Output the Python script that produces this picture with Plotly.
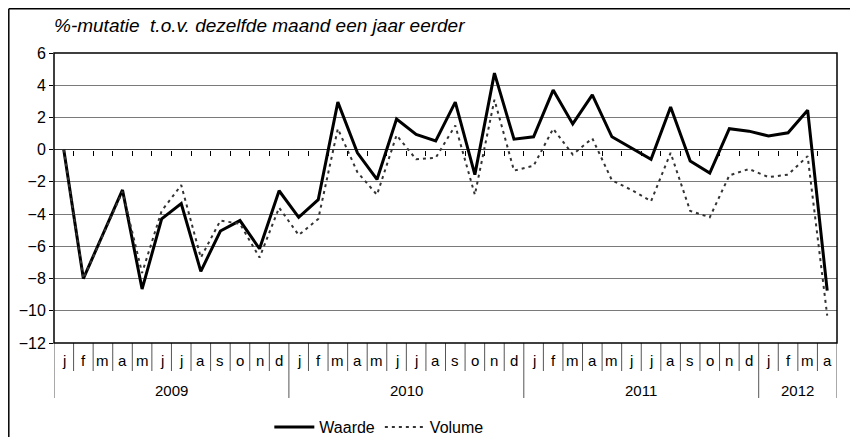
import plotly.graph_objects as go

months = ["j", "f", "m", "a", "m", "j", "j", "a", "s", "o", "n", "d",
          "j", "f", "m", "a", "m", "j", "j", "a", "s", "o", "n", "d",
          "j", "f", "m", "a", "m", "j", "j", "a", "s", "o", "n", "d",
          "j", "f", "m", "a"]
years = ["2009", "2010", "2011", "2012"]
year_lengths = [12, 12, 12, 4]

waarde = [0, -8.0, -5.25, -2.5, -8.65, -4.3, -3.35, -7.55, -5.05, -4.4, -6.15, -2.55,
          -4.2, -3.1, 2.95, -0.2, -1.85, 1.9, 0.95, 0.55, 2.95, -1.55, 4.75, 0.65,
          0.8, 3.7, 1.6, 3.4, 0.8, 0.1, -0.6, 2.65, -0.7, -1.45, 1.3, 1.15,
          0.85, 1.05, 2.45, -8.75]
volume = [0, -8.0, -5.3, -2.6, -7.65, -3.8, -2.2, -6.7, -4.4, -4.6, -6.7, -3.6,
          -5.3, -4.3, 1.3, -1.4, -2.8, 0.9, -0.6, -0.5, 1.5, -2.8, 3.1, -1.3,
          -1.0, 1.3, -0.3, 0.7, -1.9, -2.5, -3.2, -0.2, -3.8, -4.2, -1.6, -1.2,
          -1.7, -1.55, -0.4, -10.3]

title_text = "%-mutatie  t.o.v. dezelfde maand een jaar eerder"
FONT = "Liberation Sans, Arial, sans-serif"

W, H = 850, 429
ML, MR, MT, MB = 46, 21, 45, 94
PW, PH = W - ML - MR, H - MT - MB

xs = list(range(len(months)))

fig = go.Figure()
fig.add_trace(go.Scatter(x=xs, y=waarde, mode="lines", name="Waarde",
                         line=dict(color="black", width=3)))
fig.add_trace(go.Scatter(x=xs, y=volume, mode="lines", name="Volume",
                         line=dict(color="#333333", width=2, dash="3px,4px")))

shapes = []
boundaries = [-0.5]
acc = -0.5
for n in year_lengths:
    acc += n
    boundaries.append(acc)
for k in range(1, len(months)):
    b = k - 0.5
    if b in boundaries:
        continue
    shapes.append(dict(type="line", xref="x", yref="paper", x0=b, x1=b, y0=0, y1=-28 / PH,
                       line=dict(color="#555555", width=1)))
for b in boundaries:
    shapes.append(dict(type="line", xref="x", yref="paper", x0=b, x1=b, y0=0, y1=-55 / PH,
                       line=dict(color="#555555", width=1)))
shapes.append(dict(type="rect", xref="paper", yref="paper", x0=0, x1=1, y0=0, y1=1,
                   line=dict(color="black", width=1.5), layer="above"))
# outer frame: top and left edges only
fx0 = (0.8 - ML) / PW
fy1 = 1 + (MT - 0.8) / PH
shapes.append(dict(type="line", xref="paper", yref="paper", x0=fx0, x1=(W - ML) / PW, y0=fy1, y1=fy1,
                   line=dict(color="black", width=1.5)))
shapes.append(dict(type="line", xref="paper", yref="paper", x0=fx0, x1=fx0, y0=-MB / PH, y1=fy1,
                   line=dict(color="black", width=1.5)))

annotations = []
for i, m in enumerate(months):
    annotations.append(dict(x=i, y=-17 / PH, xref="x", yref="paper", text=m, showarrow=False,
                            font=dict(family=FONT, size=15, color="black"),
                            xanchor="center", yanchor="middle"))
start = 0
for yname, n in zip(years, year_lengths):
    center = start + (n - 1) / 2
    annotations.append(dict(x=center, y=-48 / PH, xref="x", yref="paper", text=yname, showarrow=False,
                            font=dict(family=FONT, size=15, color="black"),
                            xanchor="center", yanchor="middle"))
    start += n
annotations.append(dict(x=-0.003, y=1 + 28 / PH, xref="paper", yref="paper", text="<i>" + title_text + "</i>",
                        showarrow=False, font=dict(family=FONT, size=19, color="black"),
                        xanchor="left", yanchor="middle"))

fig.update_layout(
    width=W, height=H,
    margin=dict(l=ML, r=MR, t=MT, b=MB, autoexpand=False),
    paper_bgcolor="white", plot_bgcolor="white",
    showlegend=True,
    legend=dict(orientation="h", x=0.275, xanchor="left", y=-84 / PH, yanchor="middle",
                font=dict(family=FONT, size=16, color="black"), itemwidth=40,
                bgcolor="rgba(0,0,0,0)", tracegroupgap=0),
    xaxis=dict(range=[-0.5, len(months) - 0.5], showgrid=False, zeroline=False,
               tickmode="array", tickvals=[k - 0.5 for k in range(1, len(months))],
               ticks="outside", ticklen=5, tickcolor="black", showticklabels=False,
               showline=False, anchor="free", position=12 / 18, automargin=False),
    yaxis=dict(range=[-12, 6], dtick=2, showgrid=True, gridcolor="#7a7a7a", gridwidth=1,
               zeroline=True, zerolinecolor="#333333", zerolinewidth=1,
               ticks="outside", ticklen=4, tickcolor="black", automargin=False,
               tickfont=dict(family=FONT, size=16, color="black")),
    shapes=shapes,
    annotations=annotations,
)

fig.write_html("out.html")
